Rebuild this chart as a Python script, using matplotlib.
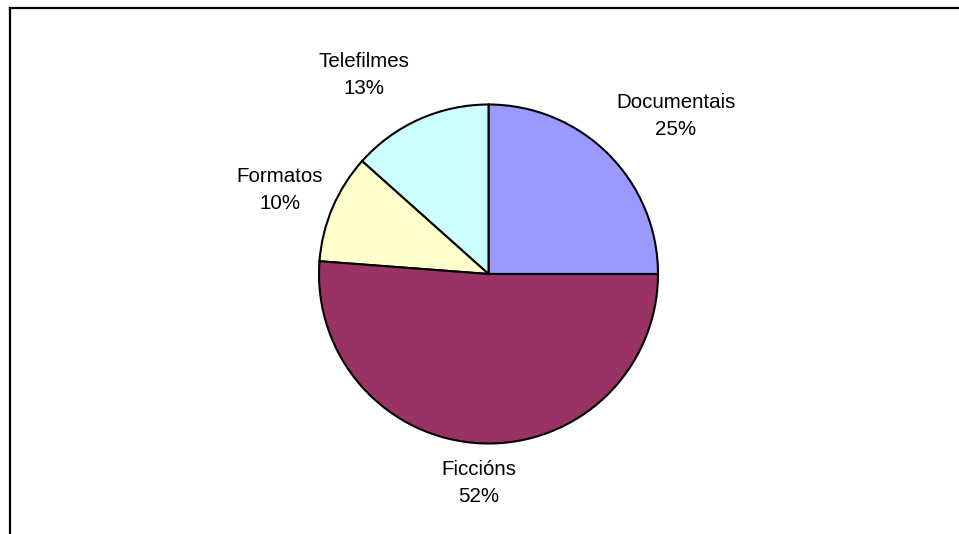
import matplotlib.pyplot as plt
from matplotlib.lines import Line2D

plt.rcParams['font.family'] = ['Liberation Sans', 'DejaVu Sans']

categories = ['Documentais', 'Telefilmes', 'Formatos', 'Ficcións']
values = [25.0, 13.4, 10.4, 51.2]
pct_labels = ['25%', '13%', '10%', '52%']
colors = ['#9999FF', '#CCFFFF', '#FFFFCC', '#993366']

# label centres in pixels (x from left, y from top)
label_pos = [(676, 116), (364, 75), (280, 190), (479, 483)]

W, H = 959, 534
fig = plt.figure(figsize=(W / 100, H / 100), dpi=100)
ax = fig.add_axes([0, 0, 1, 1])

ax.pie(values, colors=colors, startangle=0, counterclock=True,
       center=(488.5, H - 274), radius=169.5,
       wedgeprops=dict(edgecolor='black', linewidth=1.5))
ax.set_xlim(0, W)
ax.set_ylim(0, H)
ax.set_aspect('equal')
ax.axis('off')

for name, pct, (x, y) in zip(categories, pct_labels, label_pos):
    ax.text(x, H - y, f'{name}\n{pct}', ha='center', va='center',
            fontsize=14.8, linespacing=1.55)

# chart area border (left and top only)
fig.add_artist(Line2D([9.5 / W, 9.5 / W], [0, 1 - 8 / H], color='black', lw=1.6))
fig.add_artist(Line2D([9.5 / W, 1], [1 - 8 / H, 1 - 8 / H], color='black', lw=1.6))

fig.savefig('out.png', dpi=100)
